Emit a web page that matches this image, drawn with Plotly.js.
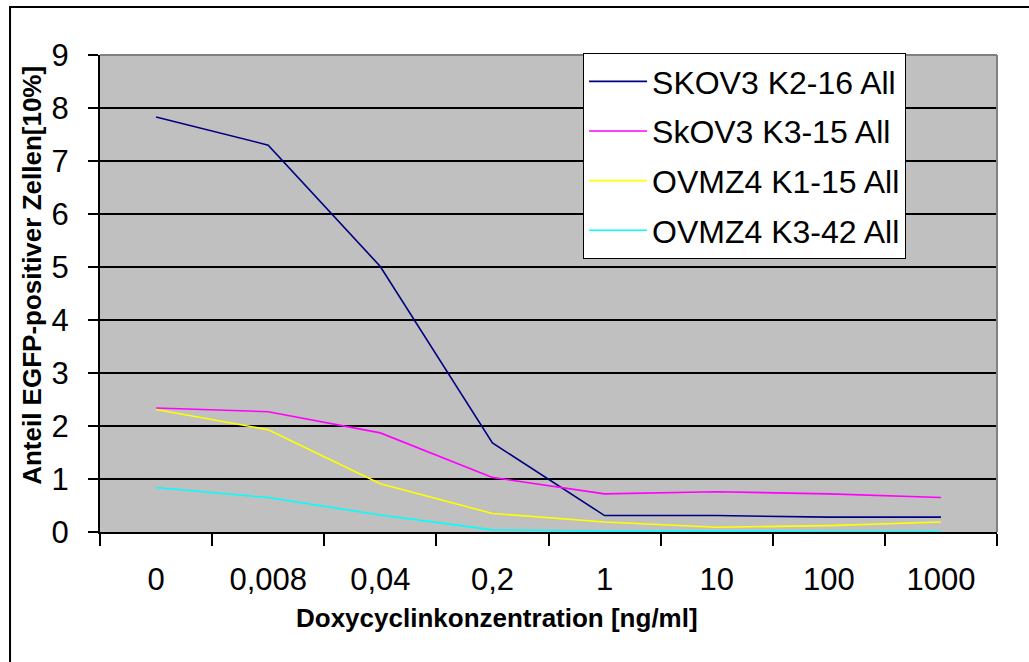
<!DOCTYPE html>
<html>
<head>
<meta charset="utf-8">
<script src="https://cdn.plot.ly/plotly-3.0.1.min.js"></script>
<style>html,body{margin:0;padding:0;background:#fff;}#chart{width:1029px;height:662px;}</style>
</head>
<body>
<div id="chart"></div>
<script>
var categories = ["0", "0,008", "0,04", "0,2", "1", "10", "100", "1000"];
var seriesNames = ["SKOV3 K2-16 All", "SkOV3 K3-15 All", "OVMZ4 K1-15 All", "OVMZ4 K3-42 All"];
var skov3_k2_16 = [7.83, 7.30, 5.01, 1.68, 0.31, 0.31, 0.28, 0.28];
var skov3_k3_15 = [2.34, 2.27, 1.87, 1.03, 0.72, 0.76, 0.72, 0.65];
var ovmz4_k1_15 = [2.31, 1.93, 0.91, 0.35, 0.19, 0.09, 0.12, 0.19];
var ovmz4_k3_42 = [0.84, 0.65, 0.32, 0.04, 0.02, 0.01, 0.01, 0.01];
var yTicks = [0, 1, 2, 3, 4, 5, 6, 7, 8, 9];

var values = [skov3_k2_16, skov3_k3_15, ovmz4_k1_15, ovmz4_k3_42];
var colors = ["#000080", "#FF00FF", "#FFFF00", "#00FFFF"];

var traces = values.map(function (v, i) {
  return {
    type: "scatter", mode: "lines", x: categories, y: v, name: seriesNames[i],
    legendgroup: "g" + i,
    line: {color: colors[i], width: 1.6}
  };
});

var layout = {
  width: 1029, height: 662,
  margin: {l: 100, r: 32, t: 55, b: 130},
  paper_bgcolor: "#ffffff",
  plot_bgcolor: "#C0C0C0",
  font: {family: "Arial, Liberation Sans, sans-serif", color: "#000"},
  showlegend: true,
  legend: {
    x: 0.5385, y: 1.004, xanchor: "left", yanchor: "top",
    bgcolor: "#ffffff", bordercolor: "#000", borderwidth: 1,
    font: {size: 32, family: "Arial, Liberation Sans, sans-serif"},
    tracegroupgap: 5, itemwidth: 58
  },
  xaxis: {
    type: "category", range: [-0.5, 7.5], tickson: "boundaries",
    showgrid: false, showline: true, linecolor: "#000", linewidth: 2,
    ticks: "outside", ticklen: 12, tickwidth: 2, tickcolor: "#000",
    tickfont: {size: 31}, ticklabelstandoff: 19,
    zeroline: false, fixedrange: true
  },
  yaxis: {
    range: [0, 9], tickvals: yTicks, ticktext: yTicks.map(String),
    showgrid: true, gridcolor: "#000", gridwidth: 1.5,
    showline: true, linecolor: "#000", linewidth: 2,
    ticks: "outside", ticklen: 10, tickwidth: 2, tickcolor: "#000",
    tickfont: {size: 31}, ticklabelstandoff: 13,
    zeroline: false, fixedrange: true
  },
  shapes: [
    {type: "line", xref: "paper", yref: "paper", x0: 0, x1: 1, y0: 1, y1: 1, line: {color: "#808080", width: 2}},
    {type: "line", xref: "paper", yref: "paper", x0: 1, x1: 1, y0: 0, y1: 1, line: {color: "#808080", width: 2}},
    {type: "rect", xref: "paper", yref: "paper", x0: -0.1003, x1: 1.3, y0: -0.5, y1: 1.1006, line: {color: "#000", width: 2}, fillcolor: "rgba(0,0,0,0)"}
  ],
  annotations: [
    {text: "<b>Doxycyclinkonzentration [ng/ml]</b>", xref: "paper", yref: "paper", x: 0.4426, y: -0.1803, xanchor: "center", yanchor: "middle", showarrow: false, font: {size: 26}},
    {text: "<b>Anteil EGFP-positiver Zellen[10%]</b>", xref: "paper", yref: "paper", x: -0.0758, y: 0.537, xanchor: "center", yanchor: "middle", textangle: -90, showarrow: false, font: {size: 26}}
  ]
};

Plotly.newPlot("chart", traces, layout, {displayModeBar: false, staticPlot: true});
</script>
</body>
</html>
